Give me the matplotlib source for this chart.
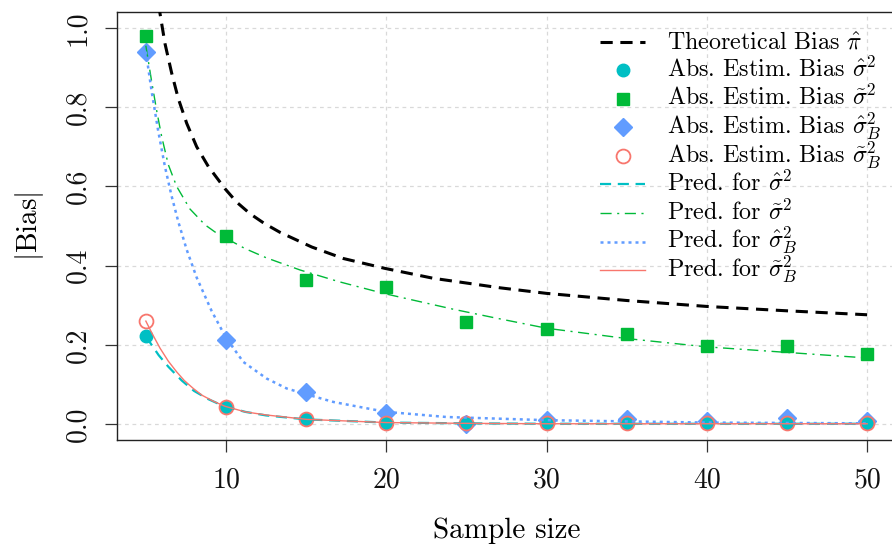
import matplotlib
matplotlib.use("Agg")
import matplotlib.pyplot as plt
from matplotlib.lines import Line2D

plt.rcParams['font.family'] = ['cmr10', 'DejaVu Serif']
plt.rcParams['mathtext.fontset'] = 'cm'
plt.rcParams['axes.formatter.use_mathtext'] = True
plt.rcParams['axes.unicode_minus'] = False

# ---------------- data ----------------
sample_sizes = [5, 10, 15, 20, 25, 30, 35, 40, 45, 50]
bias_hat_s2 = [0.222, 0.044, 0.014, 0.004, 0.003, 0.003, 0.003, 0.003, 0.003, 0.003]
bias_tilde_s2 = [0.980, 0.476, 0.365, 0.347, 0.259, 0.240, 0.227, 0.196, 0.196, 0.176]
bias_hat_s2B = [0.940, 0.212, 0.082, 0.029, 0.000, 0.011, 0.013, 0.009, 0.015, 0.009]
bias_tilde_s2B = [0.260, 0.044, 0.014, 0.004, 0.003, 0.003, 0.003, 0.003, 0.003, 0.003]

theo_n = [5.8, 5.88, 6.19, 6.61, 7.02, 7.55, 8.17, 8.90, 9.94, 10.67, 11.5, 12.37, 13.37,
          15.35, 17.32, 19.92, 22.94, 27.1, 30, 35, 40, 45, 50]
theo_bias = [1.06, 1.037, 0.961, 0.886, 0.822, 0.759, 0.700, 0.650, 0.594, 0.560, 0.531,
             0.507, 0.484, 0.447, 0.418, 0.393, 0.368, 0.344, 0.330, 0.312, 0.297, 0.286,
             0.276]

pred_hat_s2_n = [5, 5.26, 5.8, 6.40, 7.24, 8, 8.9, 9.5, 10, 11.2, 12.5, 15, 20, 25, 30,
                 40, 50]
pred_hat_s2 = [0.222, 0.206, 0.174, 0.145, 0.110, 0.084, 0.063, 0.052, 0.044, 0.031,
               0.022, 0.012, 0.004, 0.002, 0.001, 0.001, 0.001]

pred_tilde_s2_n = [5, 5.36, 5.68, 5.99, 6.40, 6.92, 7.75, 8.69, 9.31, 10, 11.19, 12.5,
                   14.62, 17, 19.82, 24.18, 26.8, 30, 35, 40, 45, 50]
pred_tilde_s2 = [0.955, 0.865, 0.790, 0.725, 0.655, 0.600, 0.543, 0.503, 0.485, 0.469,
                 0.443, 0.420, 0.389, 0.360, 0.330, 0.290, 0.268, 0.242, 0.216, 0.195,
                 0.181, 0.167]

pred_hat_s2B_n = [5, 5.36, 5.77, 6.19, 6.61, 7.03, 7.55, 8.17, 9.11, 10, 11.08, 12.54,
                  13.79, 15.04, 16.7, 18.78, 20, 23.77, 30, 40, 50]
pred_hat_s2B = [0.940, 0.840, 0.740, 0.650, 0.575, 0.510, 0.440, 0.370, 0.285, 0.218,
                0.157, 0.115, 0.090, 0.075, 0.056, 0.040, 0.031, 0.018, 0.010, 0.004, 0.002]

pred_tilde_s2B_n = [5, 5.4, 5.88, 6.4, 6.92, 7.4, 7.96, 8.5, 9.2, 9.94, 11.2, 12.54,
                    15.04, 20, 25, 30, 40, 50]
pred_tilde_s2B = [0.260, 0.228, 0.192, 0.159, 0.132, 0.110, 0.090, 0.073, 0.058, 0.045,
                  0.031, 0.023, 0.012, 0.004, 0.002, 0.001, 0.001, 0.001]

xticks = [10, 20, 30, 40, 50]
xtick_labels = ["10", "20", "30", "40", "50"]
yticks = [0.0, 0.2, 0.4, 0.6, 0.8, 1.0]
ytick_labels = ["0.0", "0.2", "0.4", "0.6", "0.8", "1.0"]

legend_labels = [
    r"Theoretical Bias $\hat{\pi}$",
    r"Abs. Estim. Bias $\hat{\sigma}^2$",
    r"Abs. Estim. Bias $\tilde{\sigma}^2$",
    r"Abs. Estim. Bias $\hat{\sigma}^2_B$",
    r"Abs. Estim. Bias $\tilde{\sigma}^2_B$",
    r"Pred. for $\hat{\sigma}^2$",
    r"Pred. for $\tilde{\sigma}^2$",
    r"Pred. for $\hat{\sigma}^2_B$",
    r"Pred. for $\tilde{\sigma}^2_B$",
]

c_cyan = "#00BFC4"
c_green = "#00BA38"
c_blue = "#619CFF"
c_red = "#F8766D"

# styles
st_theo = dict(color="black", lw=2.2, dashes=(4, 2.5))
st_p_cyan = dict(ls="none", marker="o", ms=9, color=c_cyan, mec=c_cyan)
st_p_green = dict(ls="none", marker="s", ms=9.2, color=c_green, mec=c_green)
st_p_blue = dict(ls="none", marker="D", ms=9.5, color=c_blue, mec=c_blue)
st_p_red = dict(ls="none", marker="o", ms=10, mfc="none", mec=c_red, mew=1.3)
st_l_cyan = dict(color=c_cyan, lw=1.6, dashes=(5, 3))
st_l_green = dict(color=c_green, lw=1.0, dashes=(8, 4, 1.5, 4))
st_l_blue = dict(color=c_blue, lw=1.8, dashes=(1.2, 1.6))
st_l_red = dict(color=c_red, lw=1.0)

# ---------------- figure ----------------
W, H = 892, 544
fig = plt.figure(figsize=(W / 100, H / 100), dpi=100)
ax = fig.add_axes([117 / W, 1 - 440 / H, (896 - 117) / W, (440 - 12) / H])
ax.set_xlim(3.2, 51.8)
ax.set_ylim(-0.04, 1.04)

ax.grid(True, color="#d9d9d9", linestyle=(0, (3, 3)), linewidth=0.9)
ax.set_axisbelow(True)

ax.plot(theo_n, theo_bias, zorder=3, **st_theo)
ax.plot(sample_sizes, bias_hat_s2B, zorder=4, **st_p_blue)
ax.plot(sample_sizes, bias_tilde_s2, zorder=4, **st_p_green)
ax.plot(sample_sizes, bias_hat_s2, zorder=5, **st_p_cyan)
ax.plot(sample_sizes, bias_tilde_s2B, zorder=6, **st_p_red)
ax.plot(pred_hat_s2_n, pred_hat_s2, zorder=7, **st_l_cyan)
ax.plot(pred_tilde_s2_n, pred_tilde_s2, zorder=7, **st_l_green)
ax.plot(pred_hat_s2B_n, pred_hat_s2B, zorder=7, **st_l_blue)
ax.plot(pred_tilde_s2B_n, pred_tilde_s2B, zorder=8, **st_l_red)

ax.set_xticks(xticks)
ax.set_xticklabels(xtick_labels)
ax.set_yticks(yticks)
ax.set_yticklabels(ytick_labels, rotation=90, va="center")
ax.tick_params(axis="both", direction="out", length=8.5, width=0.9, color="#333333",
               labelsize=20, colors="#111111")
ax.tick_params(axis="x", pad=11)
ax.tick_params(axis="y", pad=10)
for s in ax.spines.values():
    s.set_color("#222222")
    s.set_linewidth(1.0)

ax.set_xlabel("Sample size", fontsize=21, labelpad=17)
ax.set_ylabel(r"$|\mathrm{Bias}|$", fontsize=21, labelpad=14)

# ---------------- legend (uniform row spacing, like R) ----------------
styles = [st_theo, st_p_cyan, st_p_green, st_p_blue, st_p_red,
          st_l_cyan, st_l_green, st_l_blue, st_l_red]
row0, step = 41.7, 28.55
x0, x1, xt = 600, 645, 667
for i, (lab, st) in enumerate(zip(legend_labels, styles)):
    yc = 1 - (row0 + i * step) / H
    if st.get("ls") == "none":
        fig.add_artist(Line2D([(x0 + x1) / 2 / W], [yc], transform=fig.transFigure, **st))
    else:
        fig.add_artist(Line2D([x0 / W, x1 / W], [yc, yc], transform=fig.transFigure, **st))
    fig.text(xt / W, 1 - (row0 + i * step + 6.6) / H, lab, fontsize=17.3,
             ha="left", va="baseline")

fig.savefig("out.png", dpi=100)
